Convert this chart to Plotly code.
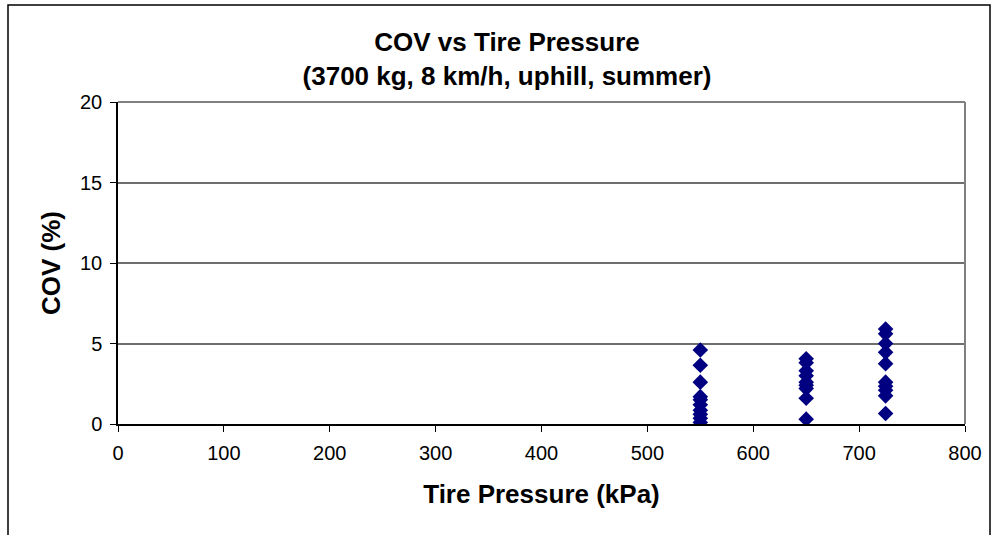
import plotly.graph_objects as go

# Data
pressure_550 = [4.6, 3.65, 2.6, 1.7, 1.5, 1.2, 0.85, 0.6, 0.35, 0.1]
pressure_650 = [4.05, 3.8, 3.3, 3.0, 2.6, 2.4, 2.2, 1.6, 0.3]
pressure_725 = [5.9, 5.6, 5.0, 4.45, 3.75, 2.6, 2.35, 2.1, 1.75, 0.65]
groups = [550, 650, 725]

x_vals = []
y_vals = []
for p, vals in zip(groups, [pressure_550, pressure_650, pressure_725]):
    x_vals += [p] * len(vals)
    y_vals += vals

FONT = "Liberation Sans, Arial, sans-serif"

fig = go.Figure()
fig.add_trace(go.Scatter(
    x=x_vals, y=y_vals, mode="markers",
    marker=dict(symbol="diamond", size=12, color="#000080", line=dict(width=0)),
    showlegend=False,
))

W, H = 997, 535
L, R, T, B = 118, 32, 102, 111
pw = W - L - R
ph = H - T - B

def px_x(px):
    return (px - L) / pw

def px_y(py):
    return (H - B - py) / ph

fig.update_layout(
    width=W, height=H,
    margin=dict(l=L, r=R, t=T, b=B),
    paper_bgcolor="white", plot_bgcolor="white",
    font=dict(family=FONT, color="black", size=20),
    title=dict(
        text="<b>COV vs Tire Pressure</b><br><b>(3700 kg, 8 km/h, uphill, summer)</b>",
        x=507 / W, xanchor="center", xref="container",
        y=1 - 51 / H, yanchor="middle", yref="container",
        font=dict(family=FONT, size=26, color="black"),
    ),
    xaxis=dict(
        range=[0, 800], tickvals=[0, 100, 200, 300, 400, 500, 600, 700, 800],
        showgrid=False, zeroline=False,
        showline=True, linecolor="black", linewidth=1.5,
        ticks="outside", ticklen=6, tickcolor="black", tickwidth=1,
        ticklabelstandoff=4,
        tickfont=dict(family=FONT, size=20, color="black"),
        title=dict(text="<b>Tire Pressure (kPa)</b>", standoff=22,
                   font=dict(family=FONT, size=26, color="black")),
    ),
    yaxis=dict(
        range=[0, 20], tickvals=[0, 5, 10, 15, 20],
        showgrid=True, gridcolor="#6e6e6e", gridwidth=1.5,
        zeroline=False,
        showline=True, linecolor="black", linewidth=1.5,
        ticks="outside", ticklen=6, tickcolor="black", tickwidth=1,
        ticklabelstandoff=4,
        tickfont=dict(family=FONT, size=20, color="black"),
        title=dict(text="<b>COV (%)</b>", standoff=12,
                   font=dict(family=FONT, size=26, color="black")),
    ),
    shapes=[
        # gray plot border top and right
        dict(type="line", xref="paper", yref="paper", x0=0, x1=1, y0=1, y1=1,
             line=dict(color="#808080", width=2)),
        dict(type="line", xref="paper", yref="paper", x0=1, x1=1, y0=0, y1=1,
             line=dict(color="#808080", width=2)),
        # outer chart border
        dict(type="rect", xref="paper", yref="paper",
             x0=px_x(8), x1=px_x(990), y0=px_y(545), y1=px_y(5),
             line=dict(color="black", width=1.5), fillcolor="rgba(0,0,0,0)",
             layer="below"),
    ],
)

fig.write_html("out.html")
